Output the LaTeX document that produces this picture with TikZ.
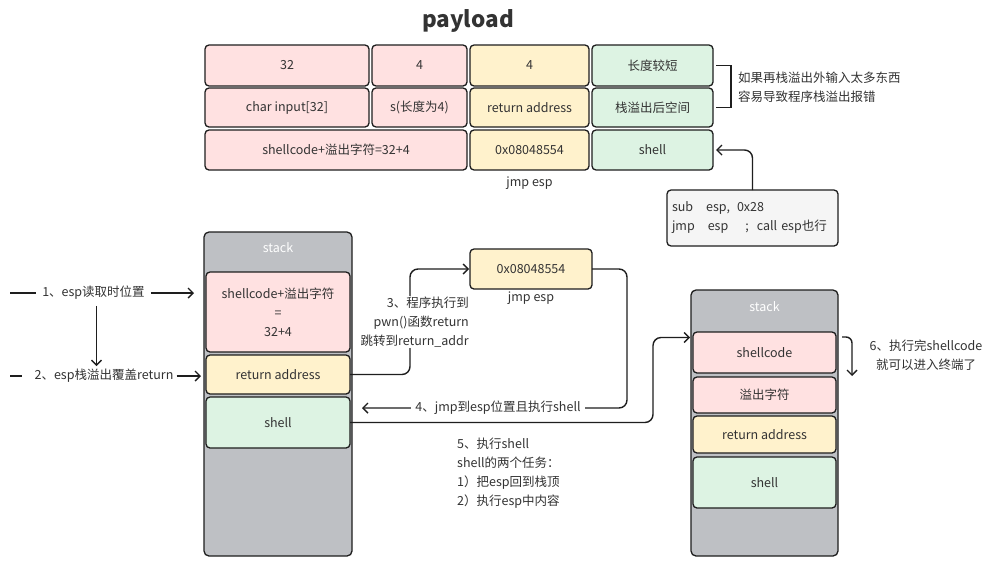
\documentclass[tikz,border=0pt]{standalone}
\usepackage{fontspec}
\setmainfont{Noto Sans CJK SC}
\usetikzlibrary{arrows.meta}
\definecolor{cpink}{HTML}{FFE1E1}
\definecolor{cyel}{HTML}{FFF2CC}
\definecolor{cgrn}{HTML}{DDF3E3}
\definecolor{cgray}{HTML}{BEC0C4}
\definecolor{ccode}{HTML}{F5F5F5}
\definecolor{ctxt}{HTML}{333333}
\definecolor{cline}{HTML}{1E1E1E}
\begin{document}
\begin{tikzpicture}[x=1pt,y=-1pt,
  font=\fontsize{12.5}{19}\selectfont, text=ctxt,
  box/.style={draw=cline, line width=1.3pt, rounded corners=4pt, inner sep=0pt, outer sep=0pt, align=center},
  pinkbox/.style={box, fill=cpink},
  yelbox/.style={box, fill=cyel},
  grnbox/.style={box, fill=cgrn},
  stackbox/.style={box, fill=cgray, rounded corners=5pt},
  codebox/.style={box, fill=ccode, align=left, inner sep=5pt},
  lbl/.style={inner sep=2pt, align=center},
  arr/.style={draw=cline, line width=1.4pt, -{Straight Barb[length=5pt,width=10pt]}},
  ln/.style={draw=cline, line width=1.4pt}
]
\useasboundingbox (0,0) rectangle (1000,587);
\fill[white] (0,0) rectangle (1000,587);

% title
\node[font=\fontsize{22.5}{26}\selectfont\bfseries, text=ctxt] (title) at (468,21) {payload};

% payload table
\node[pinkbox, minimum width=164pt, minimum height=41pt] (p11) at (287,65.5) {32};
\node[pinkbox, minimum width=95pt, minimum height=41pt] (p12) at (419.5,65.5) {4};
\node[yelbox, minimum width=119pt, minimum height=41pt] (p13) at (529.5,65.5) {4};
\node[grnbox, minimum width=121pt, minimum height=41pt] (p14) at (652.5,65.5) {长度较短};

\node[pinkbox, minimum width=164pt, minimum height=39pt] (p21) at (287,107.5) {char input[32]};
\node[pinkbox, minimum width=95pt, minimum height=39pt] (p22) at (419.5,107.5) {s(长度为4)};
\node[yelbox, minimum width=119pt, minimum height=39pt] (p23) at (529.5,107.5) {return address};
\node[grnbox, minimum width=121pt, minimum height=39pt] (p24) at (652.5,107.5) {栈溢出后空间};

\node[pinkbox, minimum width=262pt, minimum height=40pt] (p31) at (336,150) {shellcode+溢出字符=32+4};
\node[yelbox, minimum width=119pt, minimum height=40pt] (p33) at (529.5,150) {0x08048554};
\node[grnbox, minimum width=121pt, minimum height=40pt] (p34) at (652.5,150) {shell};
\node[lbl] (pjmp) at (529.5,183) {jmp esp};

% bracket
\draw[ln, line width=1.3pt] ([xshift=3pt]p14.east) -- ++(15,0) |- ([xshift=3pt]p24.east);
\node[lbl, anchor=west, align=left] (note) at (736,87) {如果再栈溢出外输入太多东西\\容易导致程序栈溢出报错};

% code box
\node[codebox, minimum width=171pt, minimum height=56pt, text width=161pt] (code) at (752.5,218)
  {sub\hspace{13pt}esp,\hspace{7pt}0x28\\jmp\hspace{13pt}esp\hspace{17pt};\hspace{8pt}call esp也行};
\draw[arr, rounded corners=8pt] (code.north) |- ([xshift=3pt]p34.east);

% left stack
\node[stackbox, minimum width=148pt, minimum height=324pt] (lstack) at (278,394) {};
\node[lbl, text=white] (lstackt) at (278,248) {stack};
\node[pinkbox, minimum width=144pt, minimum height=80pt] (lsc) at (278,312) {shellcode+溢出字符\\=\\32+4};
\node[yelbox, minimum width=144pt, minimum height=39pt] (lret) at (278,374.5) {return address};
\node[grnbox, minimum width=144pt, minimum height=51pt] (lsh) at (278,422.5) {shell};

% left labels
\coordinate (s1) at (10,293);
\node[lbl, inner sep=6pt] (l1) at (93.5,293) {1、esp读取时位置};
\draw[ln] (s1) -- (l1.west);
\draw[arr] (l1.east) -- ([xshift=-12pt]l1.east -| lsc.west);

\coordinate (s2) at (10,376);
\node[lbl, inner sep=3pt] (l2) at (104,376) {2、esp栈溢出覆盖return};
\draw[ln] (s2) -- ++(12,0);
\draw[arr] (l2.east) -- ([xshift=-5pt]l2.east -| lret.west);
\draw[arr] ([xshift=3pt]l1.south) -- ([xshift=3pt]l1.south |- l2.north);

% address node
\node[yelbox, minimum width=122pt, minimum height=40pt] (addr) at (531,269) {0x08048554};
\node[lbl] (ajmp) at (531,298) {jmp esp};

% arrow 3
\draw[arr, rounded corners=8pt] (lret.east) -- ++(60,0) |- ([xshift=-1pt]addr.west);
\node[lbl, anchor=east, align=right, fill=white, inner sep=1pt] (l3) at (470,322) {3、程序执行到\\pwn()函数return\\跳转到return\_addr};

% arrow 4
\coordinate (a4end) at (362,408);
\draw[arr, rounded corners=8pt] (addr.east) -- ++(35,0) |- (a4end);
\node[lbl, fill=white, inner sep=4pt] (l4) at (498,408) {4、jmp到esp位置且执行shell};

% right stack
\node[stackbox, minimum width=147pt, minimum height=266pt] (rstack) at (764.5,423) {};
\node[lbl, text=white] (rstackt) at (764.5,307) {stack};
\node[pinkbox, minimum width=143pt, minimum height=41pt] (rsc) at (764.5,352.5) {shellcode};
\node[pinkbox, minimum width=143pt, minimum height=36pt] (rof) at (764.5,395) {溢出字符};
\node[yelbox, minimum width=143pt, minimum height=37pt] (rret) at (764.5,434.5) {return address};
\node[grnbox, minimum width=143pt, minimum height=51pt] (rsh) at (764.5,482.5) {shell};

% arrow 5
\draw[arr, rounded corners=8pt] (lsh.east) -- ++(303,0) |- ([xshift=-3pt,yshift=15pt]rsc.west);
\node[lbl, anchor=north west, align=left] (l5) at (455,436) {5、执行shell\\shell的两个任务：\\1）把esp回到栈顶\\2）执行esp中内容};

% arrow 6
\coordinate (a6s) at (842,337);
\coordinate (a6e) at (852,376);
\draw[arr, rounded corners=6pt] (a6s) -| (a6e);
\node[lbl] (l6) at (926,355) {6、执行完shellcode\\就可以进入终端了};
\end{tikzpicture}
\end{document}
